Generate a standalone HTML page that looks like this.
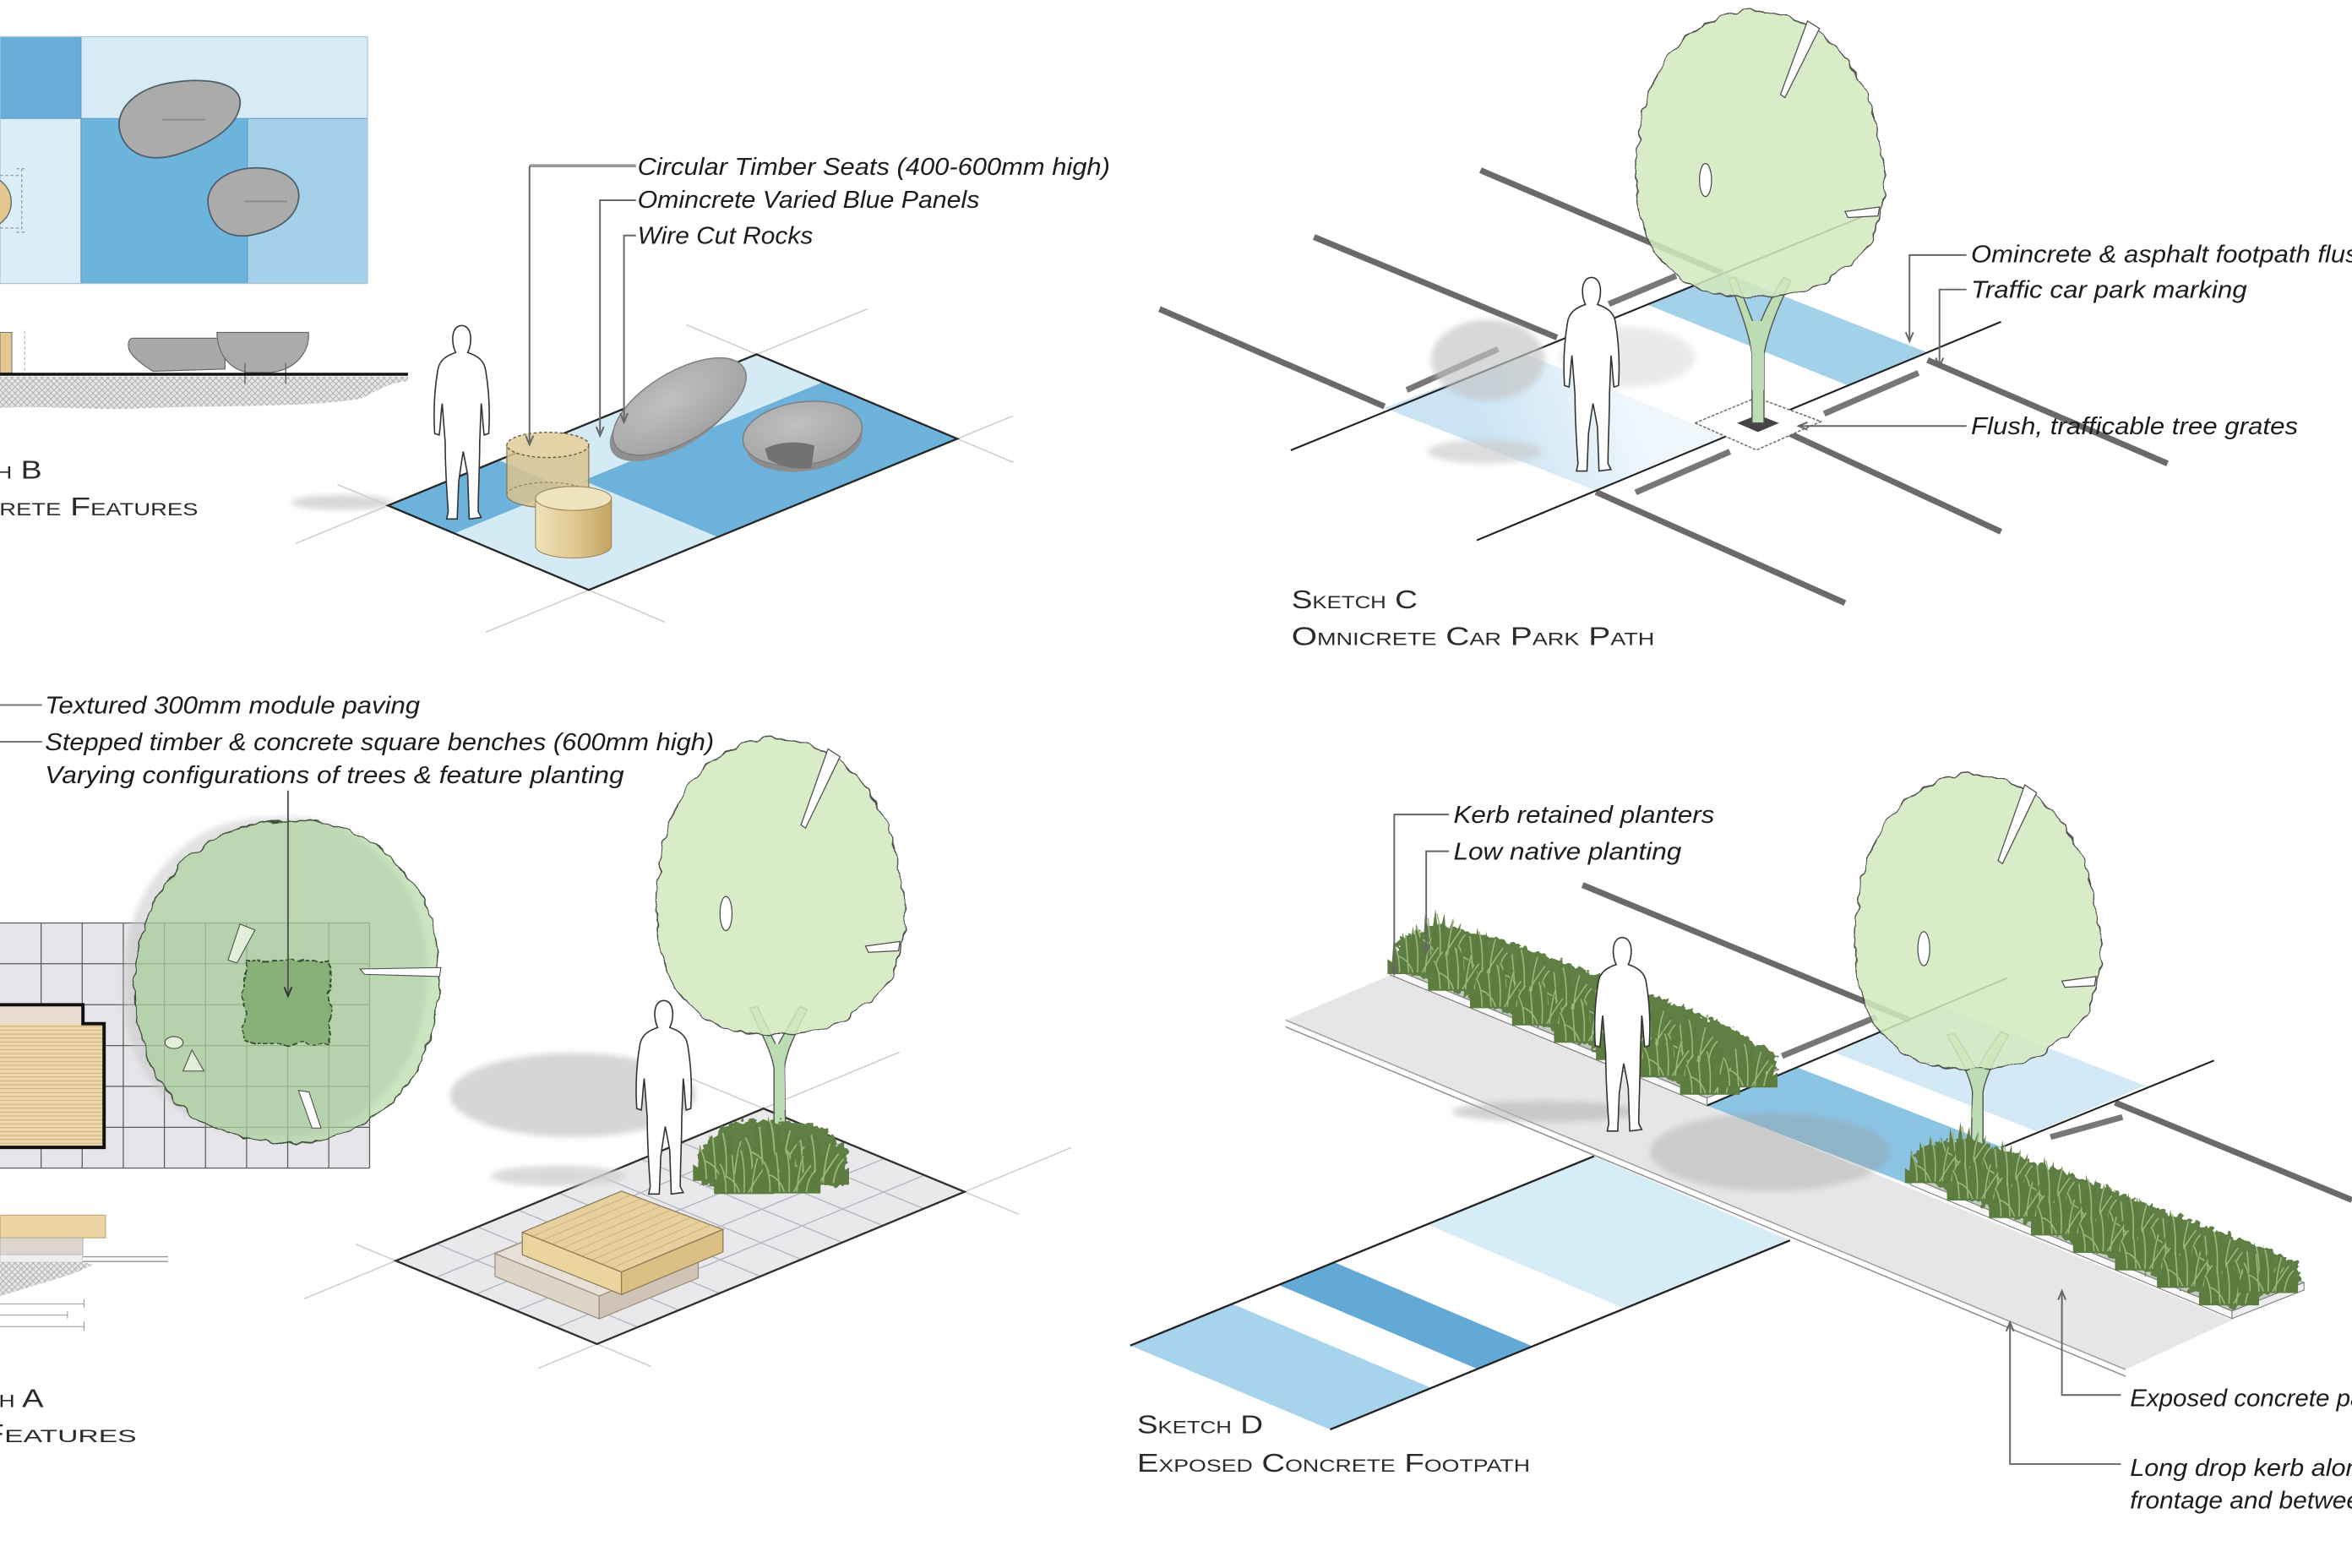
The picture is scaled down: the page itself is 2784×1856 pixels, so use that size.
<!DOCTYPE html>
<html><head><meta charset="utf-8"><style>
html,body{margin:0;padding:0;background:#fff;overflow:hidden}
svg{display:block}
.lb{font-family:"Liberation Sans Narrow","Liberation Sans",sans-serif;font-style:italic;font-size:16px;fill:#1c1c1c}
.tt{font-family:"Liberation Sans",sans-serif;font-variant:small-caps;font-size:17px;fill:#2b2b2b}
</style></head><body>
<svg width="2784" height="1856" viewBox="0 0 1568 1045.3" preserveAspectRatio="none" xmlns="http://www.w3.org/2000/svg">
<defs>
 <filter id="rough" x="-10%" y="-10%" width="120%" height="120%">
  <feTurbulence type="fractalNoise" baseFrequency="0.1" numOctaves="2" seed="4" result="n"/>
  <feDisplacementMap in="SourceGraphic" in2="n" scale="6" xChannelSelector="R" yChannelSelector="G"/>
 </filter>
 <filter id="rough2" x="-10%" y="-20%" width="120%" height="140%">
  <feTurbulence type="fractalNoise" baseFrequency="0.25" numOctaves="2" seed="7" result="n"/>
  <feDisplacementMap in="SourceGraphic" in2="n" scale="8" xChannelSelector="R" yChannelSelector="G"/>
 </filter>
 <filter id="blur" x="-20%" y="-20%" width="140%" height="140%"><feGaussianBlur stdDeviation="2"/></filter>
 <pattern id="hatch" width="4" height="4" patternUnits="userSpaceOnUse"><rect width="4" height="4" fill="#e6e6e6"/><path d="M0,4 L4,0 M0,0 L4,4" stroke="#a9a9a9" stroke-width="0.5"/></pattern>
 <pattern id="slats" width="10" height="2.6" patternUnits="userSpaceOnUse"><rect width="10" height="2.6" fill="#eed8ab"/><line x1="0" y1="0.4" x2="10" y2="0.4" stroke="#c5ab79" stroke-width="0.5"/></pattern>
 <linearGradient id="cylg" x1="0" y1="0" x2="1" y2="0"><stop offset="0" stop-color="#efe1bb"/><stop offset="0.5" stop-color="#e0c992"/><stop offset="1" stop-color="#c4a463"/></linearGradient>
 <radialGradient id="rockg" cx="0.45" cy="0.35" r="0.7"><stop offset="0" stop-color="#c0c0c0"/><stop offset="1" stop-color="#a2a2a2"/></radialGradient>
 <linearGradient id="paleg" gradientUnits="userSpaceOnUse" x1="990" y1="300" x2="1085" y2="262"><stop offset="0" stop-color="#cae4f4"/><stop offset="1" stop-color="#eff7fc"/></linearGradient>
 <g id="person"><path d="M19,0 C23,0 25,4 25,9 C25,13 24,16 23,18 C29,20 34,23 35,30 C37,42 38,56 37,72 L34,73 C33,66 33,59 32,52 L31,78 C31,94 30,110 30,124 L32,128 L24,129 L23,100 C22,94 21,89 20,84 C19,90 18,97 17,104 L16,129 L9,129 L10,124 C9,110 8,94 8,78 L6,52 C5,59 5,66 4,73 L1,72 C0,56 1,42 3,30 C4,23 9,20 15,18 C14,16 13,13 13,9 C13,4 15,0 19,0 Z" fill="#fff" stroke="#333" stroke-width="0.9"/></g>
 <g id="crown">
  <path d="M77,1 C95,0 122,12 136,28 C152,46 162,72 166,104 C169,132 160,152 150,164 C136,180 112,191 84,192 C60,193 40,188 26,176 C10,162 2,142 1,118 C0,90 4,64 14,44 C26,22 52,2 77,1 Z" fill="#d3e9bf" fill-opacity="0.86" stroke="#4d4d4d" stroke-width="0.8" filter="url(#rough)"/>
  <path d="M115,8 L123,13 L100,59 L97,57 Z" fill="#fff" stroke="#4d4d4d" stroke-width="0.7"/>
  <ellipse cx="47" cy="114" rx="4" ry="11" fill="#fff" stroke="#4d4d4d" stroke-width="0.7"/>
  <path d="M163,132 L140,135 L142,139 L162,138 Z" fill="#fff" stroke="#4d4d4d" stroke-width="0.7"/>
 </g>
 <g id="clump">
  <path d="M0,32 L0,22 L3,24 L4,10 L9,22 L10,4 L14,20 L17,0 L19,18 L23,3 L24,19 L29,6 L28,21 L34,9 L32,24 L39,16 L37,24 L40,22 L40,32 Z" fill="#5c7c40"/>
  <path d="M8,31 Q8,18 4,12 M14,31 Q13,16 12,6 M20,31 Q21,14 18,3 M25,31 Q26,18 29,8 M31,31 Q32,22 37,17 M17,31 Q14,22 7,20 M23,31 Q28,22 34,14" stroke="#9ab979" stroke-width="0.9" fill="none"/>
 </g>
</defs>
<rect width="1568" height="1045.3" fill="#fff"/>

<!-- ================= SKETCH B ================= -->
<rect x="0" y="24.5" width="54" height="54.5" fill="#67add8"/>
<rect x="54" y="24.5" width="191" height="54.5" fill="#d6ebf5"/>
<rect x="0" y="79" width="54" height="110" fill="#dceff8"/>
<rect x="54" y="79" width="111" height="110" fill="#6db4dc"/>
<rect x="165" y="79" width="80" height="110" fill="#a4d1e9"/>
<path d="M54,24.5 V189 M0,79 H245 M165,79 V189" stroke="#5d9cc2" stroke-width="0.6" fill="none"/>
<rect x="0" y="24.5" width="245" height="164.5" fill="none" stroke="#a9c2d2" stroke-width="0.7"/>
<path d="M80,88 C76,72 92,58 115,55 C140,51 162,56 160,70 C158,85 140,96 118,103 C98,109 84,102 80,88 Z" fill="#acabac" stroke="#4f5f6a" stroke-width="1"/>
<path d="M139,138 C136,124 150,113 168,112 C188,111 201,120 199,133 C197,146 184,154 166,157 C150,159 141,150 139,138 Z" fill="#acabac" stroke="#4f5f6a" stroke-width="1"/>
<line x1="108" y1="79.7" x2="137" y2="79.7" stroke="#8c8c8c" stroke-width="1.2"/>
<line x1="163" y1="134.3" x2="191.5" y2="134.3" stroke="#8c8c8c" stroke-width="1.2"/>
<circle cx="-10" cy="134.7" r="17.5" fill="#e2c88f" stroke="#6b6b6b" stroke-width="0.8"/>
<path d="M14.5,112.5 V154.8 M11,112.5 H17 M11,154.8 H17 M0,117 H14 M0,152 H14" stroke="#888" stroke-width="0.6" stroke-dasharray="2 1.5" fill="none"/>
<!-- section B -->
<path d="M0,251 L272,251 L272,254 C255,256 250,262 240,266 C200,272 150,270 100,272 C60,274 30,270 0,272 Z" fill="url(#hatch)"/>
<rect x="0" y="221.6" width="7.9" height="27" fill="#e2c88e" stroke="#777" stroke-width="0.6"/>
<line x1="16.5" y1="220.5" x2="16.5" y2="248" stroke="#aaa" stroke-width="0.6" stroke-dasharray="2 1.5"/>
<path d="M88,225.5 L150,225.5 L150,246 L102,247.5 C96,244 88,238 86,233 C85,229 86,226 88,225.5 Z" fill="#a9a9a9" stroke="#6a6a6a" stroke-width="0.7"/>
<path d="M144.6,221.6 L205.6,221.6 C207,234 197,247 180,248.3 L165,248.3 C152,246 145,235 144.6,221.6 Z" fill="#ababab" stroke="#6a6a6a" stroke-width="0.7"/>
<path d="M163.3,242 V256 M190.5,242 V256" stroke="#666" stroke-width="0.8"/>
<line x1="0" y1="249.5" x2="272" y2="249.5" stroke="#111" stroke-width="2"/>
<text x="-56" y="319" textLength="84" lengthAdjust="spacingAndGlyphs" class="tt">Sketch B</text>
<text x="-57" y="343.5" textLength="189" lengthAdjust="spacingAndGlyphs" class="tt">Omnicrete Features</text>

<!-- iso B -->
<g stroke="#cfcfcf" stroke-width="0.9">
 <line x1="197.3" y1="362.2" x2="258.7" y2="337"/>
 <line x1="225" y1="323" x2="258.7" y2="337"/>
 <line x1="504.4" y1="236.2" x2="578.1" y2="206"/>
 <line x1="457.6" y1="216.5" x2="504.4" y2="236.2"/>
 <line x1="638.2" y1="292.5" x2="675" y2="277.4"/>
 <line x1="638.2" y1="292.5" x2="675.7" y2="308.3"/>
 <line x1="392.5" y1="393.3" x2="323.7" y2="421.5"/>
 <line x1="392.5" y1="393.3" x2="443.3" y2="414.7"/>
</g>
<ellipse cx="228" cy="335" rx="34" ry="5" fill="#cfcfcf" opacity="0.8" filter="url(#blur)"/>
<polygon points="258.7,337 504.4,236.2 638.2,292.5 392.5,393.3" fill="#d4eaf5"/>
<polygon points="258.7,337 332.4,306.8 376.6,325.3 302.9,355.6" fill="#6cb2db"/>
<polygon points="388.9,320.3 548.6,254.8 638.2,292.5 478.5,358" fill="#6cb2db"/>
<polygon points="258.7,337 504.4,236.2 638.2,292.5 392.5,393.3" fill="none" stroke="#262626" stroke-width="1.3"/>
<use href="#person" transform="translate(288.8,217)"/>
<path d="M337.9,296.6 L337.9,330 A27.3,8.4 0 0 0 392.5,330 L392.5,296.6 Z" fill="#d8c38f" fill-opacity="0.85" stroke="#8a7a58" stroke-width="0.7"/>
<ellipse cx="365.2" cy="296.6" rx="27.3" ry="8.4" fill="#e4d3a6" stroke="#6d5d3d" stroke-width="0.8" stroke-dasharray="2 1.5"/>
<path d="M337.9,330 A27.3,8.4 0 0 1 392.5,330" fill="none" stroke="#8a7a58" stroke-width="0.6" stroke-dasharray="2 1.5"/>
<path d="M357,332.3 L357,364 A25.3,8 0 0 0 407.6,364 L407.6,332.3 Z" fill="url(#cylg)" stroke="#9c8556" stroke-width="0.6"/>
<ellipse cx="382.3" cy="332.3" rx="25.3" ry="8" fill="#efe2bf" stroke="#9c8556" stroke-width="0.6"/>
<ellipse cx="450" cy="276" rx="49" ry="22" transform="rotate(-31 450 276)" fill="#8f8f8f"/>
<ellipse cx="453" cy="271" rx="50" ry="23" transform="rotate(-31 453 271)" fill="url(#rockg)" stroke="#7d7d7d" stroke-width="0.8"/>
<ellipse cx="536" cy="294" rx="39" ry="20" transform="rotate(-8 536 294)" fill="#8c8c8c"/>
<ellipse cx="535" cy="289" rx="40" ry="21" transform="rotate(-8 535 289)" fill="url(#rockg)" stroke="#7d7d7d" stroke-width="0.8"/>
<path d="M510,299 Q525,292 543,297 L541,312 Q525,314 512,306 Z" fill="#727272"/>
<!-- leaders B -->
<g stroke="#666" stroke-width="1.1" fill="none">
 <path d="M424,110.5 H353" stroke="#999" stroke-width="2"/>
 <path d="M353,110.5 V296"/>
 <path d="M350.5,290.5 L353,296.5 L355.5,290.5"/>
 <path d="M424,133.5 H400 V290"/>
 <path d="M397.5,284.5 L400,290.5 L402.5,284.5"/>
 <path d="M424,157 H416 V281"/>
 <path d="M413.5,275.5 L416,281.5 L418.5,275.5"/>
</g>
<text x="425" y="116.5" textLength="315" lengthAdjust="spacingAndGlyphs" class="lb">Circular Timber Seats (400-600mm high)</text>
<text x="425" y="138.5" textLength="228" lengthAdjust="spacingAndGlyphs" class="lb">Omincrete Varied Blue Panels</text>
<text x="425" y="162.5" textLength="117" lengthAdjust="spacingAndGlyphs" class="lb">Wire Cut Rocks</text>

<!-- ================= SKETCH C ================= -->
<polygon points="923,272 1017,236 1150,291 1064,327" fill="url(#paleg)"/>
<polygon points="1098,203 1150,182 1285,235 1232,257" fill="#a3d1ea"/>
<g stroke="#6a6a6a" stroke-width="4">
 <line x1="987" y1="113.5" x2="1148" y2="182"/>
 <line x1="1285" y1="240" x2="1445" y2="309"/>
 <line x1="876" y1="158" x2="1038" y2="225"/>
 <line x1="1193" y1="289" x2="1334" y2="354.5"/>
 <line x1="773" y1="206" x2="923" y2="271"/>
 <line x1="1064" y1="328" x2="1230" y2="402"/>
</g>
<g stroke="#777" stroke-width="4">
 <line x1="937.8" y1="260" x2="998.8" y2="232.7"/>
 <line x1="1072.5" y1="202.7" x2="1117.4" y2="183.9"/>
 <line x1="1216.1" y1="275.8" x2="1279" y2="248.6"/>
 <line x1="1090.4" y1="328.3" x2="1153.3" y2="301.1"/>
</g>
<line x1="860.5" y1="300.2" x2="1250" y2="141" stroke="#222" stroke-width="1.2"/>
<line x1="984.5" y1="360.2" x2="1334" y2="214.5" stroke="#222" stroke-width="1.2"/>
<polygon points="1130,282 1171,265 1214,281 1171,300" fill="#fff" stroke="#666" stroke-width="0.8" stroke-dasharray="2 1"/>
<polygon points="1158,282 1172,276.5 1186,282 1172,288" fill="#444"/>
<ellipse cx="992" cy="240" rx="38" ry="27" fill="#c4c4c4" opacity="0.65" filter="url(#blur)"/>
<ellipse cx="1085" cy="238" rx="45" ry="20" fill="#d2d2d2" opacity="0.45" filter="url(#blur)"/>
<ellipse cx="990" cy="301" rx="38" ry="8" fill="#cacaca" opacity="0.65" filter="url(#blur)"/>
<use href="#person" transform="translate(1042,185)"/>
<path d="M1168,282 L1168,236 C1166,222 1160,205 1152,186 L1157,185 C1163,200 1168,212 1171,222 C1175,210 1181,198 1189,185 L1194,187 C1186,203 1179,220 1176,236 L1176,282 Z" fill="#bcdcb4" stroke="#555" stroke-width="0.8"/>
<use href="#crown" transform="translate(1090,6)"/>
<path d="M1168,260 L1168,236 C1167,228 1166,222 1165,214 L1177,214 C1176,222 1176,228 1176,236 L1176,260 Z" fill="#bcdcb4"/>
<g stroke="#666" stroke-width="1.1" fill="none">
 <path d="M1311,170 H1273 V227"/>
 <path d="M1270.5,221.5 L1273,227.5 L1275.5,221.5"/>
 <path d="M1311,193 H1293 V244"/>
 <path d="M1290.5,238.5 L1293,244.5 L1295.5,238.5"/>
 <path d="M1311,284 H1199"/>
 <path d="M1205,281.5 L1199,284 L1205,286.5"/>
</g>
<text x="1314" y="175" textLength="268" lengthAdjust="spacingAndGlyphs" class="lb">Omincrete &amp; asphalt footpath flush</text>
<text x="1314" y="198.5" textLength="184" lengthAdjust="spacingAndGlyphs" class="lb">Traffic car park marking</text>
<text x="1314" y="289.5" textLength="218" lengthAdjust="spacingAndGlyphs" class="lb">Flush, trafficable tree grates</text>
<text x="861" y="405.5" textLength="84" lengthAdjust="spacingAndGlyphs" class="tt">Sketch C</text>
<text x="861" y="430" textLength="242" lengthAdjust="spacingAndGlyphs" class="tt">Omnicrete Car Park Path</text>

<!-- ================= SKETCH A ================= -->
<text x="30" y="475.5" textLength="250" lengthAdjust="spacingAndGlyphs" class="lb">Textured 300mm module paving</text>
<text x="30" y="500" textLength="446" lengthAdjust="spacingAndGlyphs" class="lb">Stepped timber &amp; concrete square benches (600mm high)</text>
<text x="30" y="522" textLength="386" lengthAdjust="spacingAndGlyphs" class="lb">Varying configurations of trees &amp; feature planting</text>
<path d="M0,470 H28 M0,494.5 H28" stroke="#777" stroke-width="1.1"/>
<!-- plan A -->
<rect x="0" y="615.3" width="246.4" height="163.4" fill="#e6e6ea"/>
<g stroke="#5a5a5a" stroke-width="0.7">
 <path d="M27.4,615.3 V778.7 M54.8,615.3 V778.7 M82.2,615.3 V778.7 M109.6,615.3 V778.7 M137,615.3 V778.7 M164.4,615.3 V778.7 M191.8,615.3 V778.7 M219.2,615.3 V778.7 M246.4,615.3 V778.7"/>
 <path d="M0,615.3 H246.4 M0,642.5 H246.4 M0,669.8 H246.4 M0,697 H246.4 M0,724.2 H246.4 M0,751.5 H246.4 M0,778.7 H246.4"/>
</g>
<path d="M190,548 C215,546 235,552 252,565 C272,580 285,600 290,625 C296,650 292,680 282,705 C270,730 250,750 222,758 C200,764 170,762 148,754 C122,744 105,725 96,700 C88,678 88,650 94,625 C100,600 115,578 136,563 C152,552 170,548 190,548 Z" transform="translate(-8,-3)" fill="#c4c4c4" opacity="0.5" filter="url(#blur)"/>
<path d="M190,548 C215,546 235,552 252,565 C272,580 285,600 290,625 C296,650 292,680 282,705 C270,730 250,750 222,758 C200,764 170,762 148,754 C122,744 105,725 96,700 C88,678 88,650 94,625 C100,600 115,578 136,563 C152,552 170,548 190,548 Z" fill="#9fd08a" fill-opacity="0.55" stroke="#3f4f3a" stroke-width="0.8" filter="url(#rough)"/>
<path d="M294,645 L240,646 L243,649.5 L293,651 Z" fill="#fff" stroke="#4d4d4d" stroke-width="0.6"/>
<path d="M152,640 L160,616 L170,620 L158,642 Z" fill="#e2efd9" stroke="#4d4d4d" stroke-width="0.6"/>
<ellipse cx="116" cy="695" rx="6" ry="4" fill="#e2efd9" stroke="#4d4d4d" stroke-width="0.6"/>
<path d="M122,714 L128,700 L136,714 Z" fill="#e2efd9" stroke="#4d4d4d" stroke-width="0.6"/>
<path d="M199,727 L206,728 L214,752 L208,752 Z" fill="#fff" stroke="#4d4d4d" stroke-width="0.6"/>
<rect x="163" y="640.4" width="57" height="55.3" fill="#7fab70" fill-opacity="0.85" stroke="#345030" stroke-width="1" stroke-dasharray="3 1.5" filter="url(#rough)"/>
<path d="M192,527 V663" stroke="#555" stroke-width="1.1"/>
<path d="M189.5,658 L192,664 L194.5,658" stroke="#333" stroke-width="1.1" fill="none"/>
<path d="M0,669.8 H55.3 V682.4 H69.4 V764.9 H0 Z" fill="url(#slats)"/>
<rect x="0" y="669.8" width="55.3" height="12.6" fill="#e9ddd2"/>
<path d="M0,669.8 H55.3 V682.4 H69.4 V764.9 H0" fill="none" stroke="#111" stroke-width="2.2"/>
<!-- section A -->
<rect x="0" y="810.1" width="70.4" height="15.1" fill="#ecd5a3" stroke="#bba272" stroke-width="0.6"/>
<rect x="0" y="825.2" width="55.3" height="11.3" fill="#dcd6cf" stroke="#aaa" stroke-width="0.5"/>
<path d="M55.3,837.8 H112 M55.3,841 H112" stroke="#999" stroke-width="0.8"/>
<rect x="0" y="836.5" width="55" height="5" fill="#f0f0f0" stroke="#bbb" stroke-width="0.4"/>
<path d="M0,841.5 H55 L62,843 C50,850 35,853 20,858 C10,861 4,863 0,864 Z" fill="url(#hatch)"/>
<path d="M0,869.2 H56 M0,876.7 H45 M0,884.3 H56 M56,866 V872 M56,881 V887 M45,874 V879" stroke="#888" stroke-width="0.5"/>
<text x="-55" y="938" textLength="84" lengthAdjust="spacingAndGlyphs" class="tt">Sketch A</text>
<text x="-97" y="961.5" textLength="188" lengthAdjust="spacingAndGlyphs" class="tt">Paving Features</text>

<!-- iso A -->
<g stroke="#cfcfcf" stroke-width="0.9">
 <line x1="202.6" y1="865.9" x2="263.9" y2="840.5"/>
 <line x1="237.1" y1="829.4" x2="263.9" y2="840.5"/>
 <line x1="509" y1="739" x2="599.7" y2="701.4"/>
 <line x1="460.7" y1="719" x2="509" y2="739"/>
 <line x1="643" y1="794.5" x2="714.2" y2="765"/>
 <line x1="643" y1="794.5" x2="679.3" y2="809.5"/>
 <line x1="398" y1="896" x2="358.8" y2="912.2"/>
 <line x1="398" y1="896" x2="434.2" y2="911"/>
</g>
<polygon points="263.9,840.5 509,739 643,794.5 398,896" fill="#e9e9ec"/>
<g stroke="#b5b9c2" stroke-width="0.8">
 <line x1="291.1" y1="829.2" x2="425.2" y2="884.7"/><line x1="318.4" y1="817.9" x2="452.5" y2="873.4"/>
 <line x1="345.6" y1="806.7" x2="479.7" y2="862.2"/><line x1="372.8" y1="795.4" x2="506.9" y2="850.9"/>
 <line x1="400.1" y1="784.1" x2="534.2" y2="839.6"/><line x1="427.3" y1="772.8" x2="561.4" y2="828.3"/>
 <line x1="454.5" y1="761.6" x2="588.6" y2="817.1"/><line x1="481.8" y1="750.3" x2="615.9" y2="805.8"/>
 <line x1="290.7" y1="851.6" x2="535.8" y2="750.1"/><line x1="317.5" y1="862.7" x2="562.6" y2="761.2"/>
 <line x1="344.4" y1="873.8" x2="589.5" y2="772.3"/><line x1="371.2" y1="884.9" x2="616.3" y2="783.4"/>
</g>
<polygon points="263.9,840.5 509,739 643,794.5 398,896" fill="none" stroke="#2e2e2e" stroke-width="1.3"/>
<ellipse cx="382" cy="730" rx="82" ry="28" fill="#cfcfcf" opacity="0.85" filter="url(#blur)"/>
<ellipse cx="372" cy="784" rx="45" ry="7" fill="#d2d2d2" opacity="0.8" filter="url(#blur)"/>
<!-- bench lower -->
<polygon points="330,835.7 396,808.4 465.5,836.7 399.5,864" fill="#e7e0d6" stroke="#9a8e7e" stroke-width="0.7"/>
<polygon points="330,835.7 399.5,864 399.5,879.2 330,850.9" fill="#ddd3c6" stroke="#9a8e7e" stroke-width="0.7"/>
<polygon points="399.5,864 465.5,836.7 465.5,851.9 399.5,879.2" fill="#cfc4b5" stroke="#9a8e7e" stroke-width="0.7"/>
<!-- bench upper -->
<polygon points="348.2,821.5 414.3,794.1 482,819.6 414.3,848" fill="#e6cf9c" stroke="#8a7a58" stroke-width="0.7"/>
<g stroke="#c9ae75" stroke-width="0.5">
 <line x1="354.8" y1="824.2" x2="420.9" y2="796.6"/><line x1="361.4" y1="826.8" x2="427.5" y2="799.1"/>
 <line x1="368" y1="829.5" x2="434.1" y2="801.6"/><line x1="374.6" y1="832.2" x2="440.7" y2="804.1"/>
 <line x1="381.2" y1="834.8" x2="447.3" y2="806.6"/><line x1="387.8" y1="837.5" x2="453.9" y2="809.1"/>
 <line x1="394.4" y1="840.2" x2="460.5" y2="811.6"/><line x1="401" y1="842.8" x2="467.1" y2="814.1"/>
 <line x1="407.6" y1="845.5" x2="473.7" y2="816.6"/>
</g>
<polygon points="348.2,821.5 414.3,848 414.3,863 348.2,836.5" fill="#ecd49e" stroke="#8a7a58" stroke-width="0.7"/>
<polygon points="414.3,848 482,819.6 482,834.6 414.3,863" fill="#dcbf82" stroke="#8a7a58" stroke-width="0.7"/>
<use href="#person" transform="translate(423.5,667)"/>
<path d="M516,772 L516,712 C514,700 507,688 500,672 L505,671 C511,684 515,692 518,698 C522,690 527,682 533,671 L538,673 C532,686 524,700 523,712 L524,772 Z" fill="#bcdcb4" stroke="#555" stroke-width="0.8"/>
<use href="#crown" transform="translate(437,491) scale(1,1.035)"/>
<path d="M516.5,740 L516.5,712 C516,706 515,702 514,696 L524,696 C523,702 523,706 523,712 L523.5,740 Z" fill="#bcdcb4"/>
<path d="M468,790 L466,768 L480,752 L500,746 L525,748 L550,752 L565,768 L562,790 Z" fill="#5f7f44" filter="url(#rough2)"/>
<use href="#clump" transform="translate(462,752) scale(1.1)"/>
<use href="#clump" transform="translate(492,744) scale(1.2)"/>
<use href="#clump" transform="translate(520,753) scale(1.15)"/>
<use href="#clump" transform="translate(476,764) scale(1)"/>
<use href="#clump" transform="translate(505,762) scale(1.05)"/>

<!-- ================= SKETCH D ================= -->
<polygon points="857,680 927,650 1488,880 1417,913" fill="#e6e6e8"/>
<line x1="857" y1="680" x2="1417" y2="913" stroke="#9a9a9a" stroke-width="0.8"/>
<line x1="857" y1="684.5" x2="1417" y2="917.5" stroke="#8a8a8a" stroke-width="0.8"/>
<!-- lower crossing -->
<polygon points="753.5,897 821.5,869.2 954.3,925.3 886.8,953" fill="#a8d3ec"/>
<polygon points="852.4,856.6 889.5,841.5 1021.7,897.5 984.9,912.6" fill="#62a9d5"/>
<polygon points="951.4,816.2 1062.7,770.8 1193.4,826.9 1083,872.3" fill="#d6ecf7"/>
<line x1="753.5" y1="897" x2="1062.7" y2="770.8" stroke="#222" stroke-width="1.3"/>
<line x1="886.8" y1="953" x2="1193.4" y2="826.9" stroke="#222" stroke-width="1.3"/>
<!-- upper crossing -->
<polygon points="1138,737 1198,711.5 1334,764.5 1274,790" fill="#8cc4e4"/>
<polygon points="1222,701.3 1294,670.7 1430,723.7 1358,754.3" fill="#d3eaf6"/>
<g stroke="#6a6a6a" stroke-width="4">
 <line x1="1055" y1="590" x2="1273" y2="680"/>
 <line x1="1410" y1="735" x2="1568" y2="800"/>
</g>
<g stroke="#777" stroke-width="4">
 <line x1="1188" y1="704" x2="1251" y2="678"/>
 <line x1="1367" y1="758" x2="1415" y2="744.7"/>
</g>
<line x1="1138" y1="737" x2="1338" y2="652" stroke="#222" stroke-width="1.2"/>
<line x1="1334" y1="765" x2="1476" y2="707" stroke="#222" stroke-width="1.2"/>
<!-- shadows D -->
<ellipse cx="1030" cy="741" rx="62" ry="7" fill="#b5b5b5" opacity="0.6" filter="url(#blur)"/>
<ellipse cx="1180" cy="768" rx="80" ry="26" fill="#9a9a9a" opacity="0.35" filter="url(#blur)"/>
<!-- planter 1 -->
<polygon points="927,645 975,626 1186,713 1138,732" fill="#c2cbc0" stroke="#888" stroke-width="0.6"/>
<polygon points="927,645 1138,732 1138,737 927,650" fill="#fafafa" stroke="#777" stroke-width="0.6"/>
<path d="M930,644 L932,626 L960,616 L1000,626 L1040,640 L1080,656 L1120,670 L1160,688 L1184,704 L1184,712 L1138,730 Z" fill="#5f7f44" filter="url(#rough2)"/>
<use href="#clump" transform="translate(940,606)"/>
<use href="#clump" transform="translate(968,618)"/>
<use href="#clump" transform="translate(996,630)"/>
<use href="#clump" transform="translate(1024,642)"/>
<use href="#clump" transform="translate(1052,654)"/>
<use href="#clump" transform="translate(1080,666)"/>
<use href="#clump" transform="translate(1108,677)"/>
<use href="#clump" transform="translate(925,617.4)"/>
<use href="#clump" transform="translate(952,628.5)"/>
<use href="#clump" transform="translate(980,640.1)"/>
<use href="#clump" transform="translate(1008,651.6)"/>
<use href="#clump" transform="translate(1036,663.1)"/>
<use href="#clump" transform="translate(1064,674.7)"/>
<use href="#clump" transform="translate(1092,686.2)"/>
<use href="#clump" transform="translate(1120,697.8)"/>
<use href="#clump" transform="translate(1145,693)"/>
<use href="#person" transform="translate(1062.5,625)"/>
<!-- tree D -->
<path d="M1314,770 L1315,728 C1313,716 1306,704 1298,690 L1303,689 C1310,700 1315,708 1318,714 C1322,705 1327,697 1334,688 L1339,690 C1332,702 1324,716 1322,728 L1322,770 Z" fill="#bcdcb4" stroke="#555" stroke-width="0.8"/>
<use href="#crown" transform="translate(1236,515) scale(0.99,1.03)"/>
<path d="M1314.5,745 L1315.5,728 C1315,722 1314,718 1313,712 L1323,712 C1322,718 1321.5,722 1321.5,728 L1321.5,745 Z" fill="#bcdcb4"/>
<!-- planter 2 -->
<polygon points="1274,785 1322,766 1536,855 1488,874" fill="#c2cbc0" stroke="#888" stroke-width="0.6"/>
<polygon points="1274,785 1488,874 1488,879 1274,790" fill="#fafafa" stroke="#777" stroke-width="0.6"/>
<polygon points="1488,874 1536,855 1536,860 1488,879" fill="#eee" stroke="#777" stroke-width="0.6"/>
<path d="M1276,784 L1278,766 L1310,758 L1350,772 L1400,790 L1450,810 L1500,828 L1532,842 L1534,854 L1488,872 Z" fill="#5f7f44" filter="url(#rough2)"/>
<use href="#clump" transform="translate(1290,748)"/>
<use href="#clump" transform="translate(1318,760)"/>
<use href="#clump" transform="translate(1346,771)"/>
<use href="#clump" transform="translate(1374,783)"/>
<use href="#clump" transform="translate(1402,795)"/>
<use href="#clump" transform="translate(1430,806)"/>
<use href="#clump" transform="translate(1458,818)"/>
<use href="#clump" transform="translate(1486,828)"/>
<use href="#clump" transform="translate(1270,756.7)"/>
<use href="#clump" transform="translate(1298,768.3)"/>
<use href="#clump" transform="translate(1326,780)"/>
<use href="#clump" transform="translate(1354,791.6)"/>
<use href="#clump" transform="translate(1382,803.2)"/>
<use href="#clump" transform="translate(1410,814.9)"/>
<use href="#clump" transform="translate(1438,826.5)"/>
<use href="#clump" transform="translate(1466,838.2)"/>
<use href="#clump" transform="translate(1492,830)"/>
<!-- leaders D -->
<g stroke="#666" stroke-width="1.1" fill="none">
 <path d="M966,543 H929.5 V649"/>
 <path d="M927,643.5 L929.5,649.5 L932,643.5"/>
 <path d="M966,567.5 H950.8 V635"/>
 <path d="M948.3,629.5 L950.8,635.5 L953.3,629.5"/>
 <path d="M1374.6,861 V930 H1414"/>
 <path d="M1372.1,866.5 L1374.6,860.5 L1377.1,866.5"/>
 <path d="M1340,882 V976 H1414"/>
 <path d="M1337.5,887.5 L1340,881.5 L1342.5,887.5"/>
</g>
<text x="969" y="548.5" textLength="174" lengthAdjust="spacingAndGlyphs" class="lb">Kerb retained planters</text>
<text x="969" y="573" textLength="152" lengthAdjust="spacingAndGlyphs" class="lb">Low native planting</text>
<text x="1420" y="937.5" textLength="170" lengthAdjust="spacingAndGlyphs" class="lb">Exposed concrete path</text>
<text x="1420" y="984" textLength="163" lengthAdjust="spacingAndGlyphs" class="lb">Long drop kerb along</text>
<text x="1420" y="1005.5" textLength="163" lengthAdjust="spacingAndGlyphs" class="lb">frontage and between</text>
<text x="758" y="955.5" textLength="84" lengthAdjust="spacingAndGlyphs" class="tt">Sketch D</text>
<text x="758" y="981" textLength="262" lengthAdjust="spacingAndGlyphs" class="tt">Exposed Concrete Footpath</text>
</svg>
</body></html>
